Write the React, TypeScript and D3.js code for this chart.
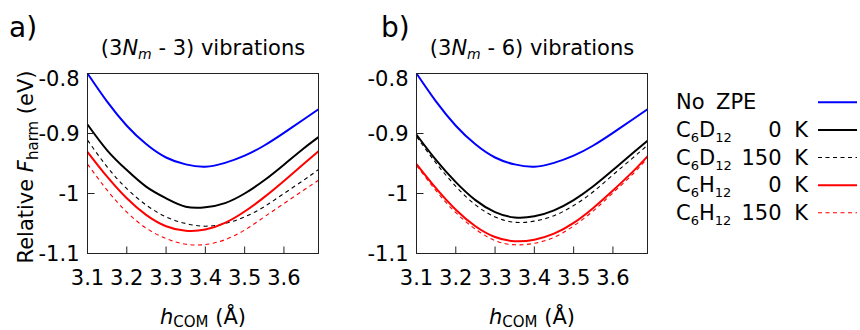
import React from "react";
import * as d3 from "d3";

// ---- data ----
const hCom = [3.1, 3.15, 3.2, 3.25, 3.3, 3.35, 3.4, 3.45, 3.5, 3.55, 3.6, 3.65, 3.688];

const noZPE = [-0.8, -0.847, -0.887, -0.918, -0.94, -0.9515, -0.9553, -0.949, -0.937, -0.92, -0.899, -0.8766, -0.8595];

// panel a) (3Nm - 3) vibrations
const cd0A = [-0.885, -0.928, -0.961, -0.989, -1.008, -1.022, -1.023, -1.016, -1.0, -0.978, -0.952, -0.925, -0.906];
const cd150A = [-0.911, -0.9557, -0.992, -1.0195, -1.039, -1.05, -1.0545, -1.05, -1.039, -1.022, -1.0, -0.978, -0.96];
const ch0A = [-0.9307, -0.972, -1.008, -1.036, -1.0545, -1.062, -1.06, -1.049, -1.03, -1.006, -0.979, -0.951, -0.9295];
const ch150A = [-0.951, -0.9945, -1.031, -1.058, -1.075, -1.0845, -1.085, -1.077, -1.061, -1.039, -1.0167, -0.9945, -0.978];

// panel b) (3Nm - 6) vibrations
const cd0B = [-0.902, -0.9445, -0.981, -1.011, -1.031, -1.04, -1.038, -1.028, -1.011, -0.988, -0.961, -0.933, -0.912];
const cd150B = [-0.905, -0.9495, -0.988, -1.019, -1.039, -1.048, -1.046, -1.037, -1.02, -0.997, -0.969, -0.941, -0.9195];
const ch0B = [-0.951, -0.9916, -1.027, -1.0545, -1.0725, -1.0795, -1.077, -1.067, -1.049, -1.024, -0.995, -0.964, -0.938];
const ch150B = [-0.953, -0.9956, -1.032, -1.0595, -1.0785, -1.0855, -1.083, -1.073, -1.054, -1.029, -0.999, -0.968, -0.941];

const xTicks = [3.1, 3.2, 3.3, 3.4, 3.5, 3.6];
const xTickLabels = ["3.1", "3.2", "3.3", "3.4", "3.5", "3.6"];
const yTicks = [-0.8, -0.9, -1, -1.1];
const yTickLabels = ["-0.8", "-0.9", "-1", "-1.1"];
const xDomain = [3.1, 3.688];
const yDomain = [-1.1, -0.8];

const FONT = "'DejaVu Sans', Verdana, sans-serif";

type SeriesStyle = { color: string; width: number; dash?: string };
const styles: SeriesStyle[] = [
  { color: "#0000ff", width: 2 },
  { color: "#000000", width: 2 },
  { color: "#000000", width: 1.1, dash: "4,3.5" },
  { color: "#ff0000", width: 2 },
  { color: "#ff0000", width: 1.1, dash: "4,3.5" },
];

function Panel({ x0, label, title, series, labelX }: { x0: number; label: string; title: string; series: number[][]; labelX: number }) {
  const w = 231;
  const y0 = 73.5;
  const y1 = 253.5;
  const x = d3.scaleLinear().domain(xDomain).range([x0, x0 + w]);
  const y = d3.scaleLinear().domain(yDomain).range([y1, y0]);
  const line = d3
    .line<number>()
    .x((_, i) => x(hCom[i]))
    .y((d) => y(d))
    .curve(d3.curveNatural);
  const cx = x0 + w / 2;
  return (
    <g fontFamily={FONT}>
      <text x={labelX} y={37} fontSize={28} fill="#000">{label}</text>
      <text x={cx} y={55} fontSize={21} textAnchor="middle" fill="#000">
        (3<tspan fontStyle="italic">N</tspan>
        <tspan fontStyle="italic" fontSize={14} dy={4}>m</tspan>
        <tspan dy={-4}>{" - " + title + ") vibrations"}</tspan>
      </text>
      {series.map((s, i) => (
        <path
          key={i}
          d={line(s) || ""}
          fill="none"
          stroke={styles[i].color}
          strokeWidth={styles[i].width}
          strokeDasharray={styles[i].dash}
        />
      ))}
      <rect x={x0} y={y0} width={w} height={y1 - y0} fill="none" stroke="#222" strokeWidth={1} />
      {xTicks.map((t, i) => (
        <g key={"x" + i}>
          <line x1={x(t)} x2={x(t)} y1={y1} y2={y1 - 7} stroke="#222" strokeWidth={1} />
          <text x={x(t)} y={284.5} fontSize={21} textAnchor="middle" fill="#000">{xTickLabels[i]}</text>
        </g>
      ))}
      {yTicks.map((t, i) => (
        <g key={"y" + i}>
          <line x1={x0} x2={x0 + 7} y1={y(t)} y2={y(t)} stroke="#222" strokeWidth={1} />
          <text x={x0 - 8} y={y(t) + 7.6 + (i === 0 ? 4.5 : 0)} fontSize={21} textAnchor="end" fill="#000">{yTickLabels[i]}</text>
        </g>
      ))}
      <text x={cx} y={323.5} fontSize={21} textAnchor="middle" fill="#000">
        <tspan fontStyle="italic">h</tspan>
        <tspan fontSize={15} dy={3.5}>COM</tspan>
        <tspan dy={-3.5}>{" (Å)"}</tspan>
      </text>
    </g>
  );
}

const legendRows = [
  { main: "No", sub: "", main2: "", sub2: "", temp: "", unit: "" },
  { main: "C", sub: "6", main2: "D", sub2: "12", temp: "0", unit: "K" },
  { main: "C", sub: "6", main2: "D", sub2: "12", temp: "150", unit: "K" },
  { main: "C", sub: "6", main2: "H", sub2: "12", temp: "0", unit: "K" },
  { main: "C", sub: "6", main2: "H", sub2: "12", temp: "150", unit: "K" },
];

function Legend() {
  const baselines = [109.3, 137, 164.5, 192.2, 219.8];
  return (
    <g fontFamily={FONT} fontSize={21} fill="#000">
      {legendRows.map((r, i) => {
        const by = baselines[i];
        const st = styles[i];
        return (
          <g key={i}>
            {i === 0 ? (
              <>
                <text x={676} y={by}>No</text>
                <text x={716} y={by}>ZPE</text>
              </>
            ) : (
              <>
                <text x={676} y={by}>
                  {r.main}
                  <tspan fontSize={13} dy={5}>{r.sub}</tspan>
                  <tspan dy={-5}>{r.main2}</tspan>
                  <tspan fontSize={13} dy={5}>{r.sub2}</tspan>
                </text>
                <text x={781.5} y={by} textAnchor="end">{r.temp}</text>
                <text x={808} y={by} textAnchor="end">{r.unit}</text>
              </>
            )}
            <line x1={818} x2={857} y1={by - 7} y2={by - 7} stroke={st.color} strokeWidth={st.width} strokeDasharray={st.dash} />
          </g>
        );
      })}
    </g>
  );
}

export default function App() {
  return (
    <svg
      width={860}
      height={330}
      style={{ position: "absolute", left: 0, top: 0, background: "#fff" }}
    >
      <rect x={0} y={0} width={860} height={330} fill="#fff" />
      <Panel x0={87.5} label="a)" title="3" series={[noZPE, cd0A, cd150A, ch0A, ch150A]} labelX={9} />
      <Panel x0={416.5} label="b)" title="6" series={[noZPE, cd0B, cd150B, ch0B, ch150B]} labelX={381} />
      <text
        transform="translate(33,167) rotate(-90)"
        fontFamily={FONT}
        fontSize={21}
        textAnchor="middle"
        fill="#000"
      >
        Relative <tspan fontStyle="italic">F</tspan>
        <tspan fontSize={15} dy={5}>harm</tspan>
        <tspan dy={-5}>{" (eV)"}</tspan>
      </text>
      <Legend />
    </svg>
  );
}
